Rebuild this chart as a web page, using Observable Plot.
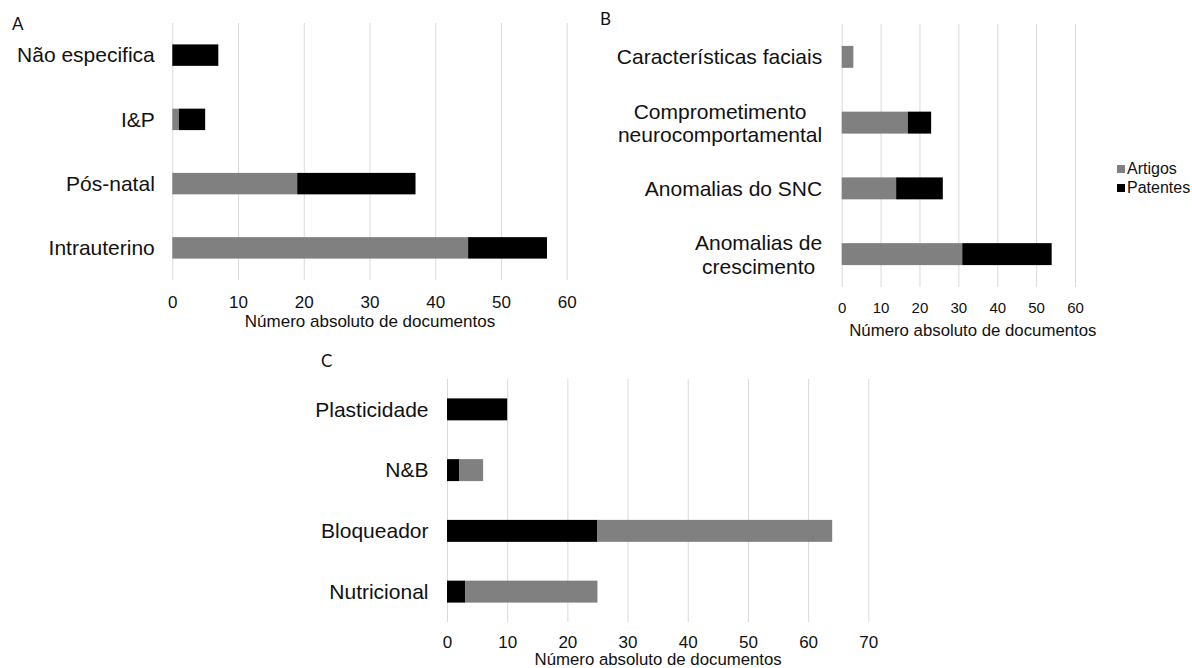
<!DOCTYPE html>
<html>
<head>
<meta charset="utf-8">
<script src="https://cdn.jsdelivr.net/npm/d3@7"></script>
<script src="https://cdn.jsdelivr.net/npm/@observablehq/plot@0.6"></script>
<style>
  html, body { margin: 0; padding: 0; background: #fff; }
  #root { position: relative; width: 1192px; height: 668px; overflow: hidden; background: #fff;
          font-family: "Liberation Sans", Arial, sans-serif; color: #111; }
  .panel { position: absolute; }
  .letter { position: absolute; font-family: Lato, "Open Sans", sans-serif; font-size: 17px; color: #111; line-height: 1; }
  #legend { position: absolute; left: 1117px; top: 160px; }
</style>
</head>
<body>
<div id="root">
  <div class="letter" style="left:12px;top:15px">A</div>
  <div class="letter" style="left:600px;top:10px">B</div>
  <div class="letter" style="left:321px;top:352px">C</div>
  <div class="panel" id="pA" style="left:0px;top:0px"></div>
  <div class="panel" id="pB" style="left:580px;top:0px"></div>
  <div class="panel" id="pC" style="left:280px;top:340px"></div>
  <div id="legend"></div>
</div>
<script>
// ---- data ----
const series = ["Artigos", "Patentes"];
const seriesColors = ["#808080", "#000000"];
const axisTitle = "Número absoluto de documentos";

const catsA = ["Não especifica", "I&P", "Pós-natal", "Intrauterino"];
const artigosA = [0, 1, 19, 45];
const patentesA = [7, 4, 18, 12];
const ticksA = [0, 10, 20, 30, 40, 50, 60];

const catsB = ["Características faciais", "Comprometimento\nneurocomportamental", "Anomalias do SNC", "Anomalias de\ncrescimento"];
const artigosB = [3, 17, 14, 31];
const patentesB = [0, 6, 12, 23];
const ticksB = [0, 10, 20, 30, 40, 50, 60];

const catsC = ["Plasticidade", "N&B", "Bloqueador", "Nutricional"];
const artigosC = [0, 4, 39, 22];
const patentesC = [10, 2, 25, 3];
const ticksC = [0, 10, 20, 30, 40, 50, 60, 70];

// ---- helpers ----
const FONT = '"Liberation Sans", Arial, sans-serif';
const ctx = document.createElement("canvas").getContext("2d");
function textWidth(s, size) {
  ctx.font = size + "px " + FONT;
  return Math.max(...s.split("\n").map(l => ctx.measureText(l).width));
}

function rows(cats, artigos, patentes, order) {
  const out = [];
  cats.forEach((c, i) => {
    for (const s of order) out.push({cat: c, series: s, value: s === "Artigos" ? artigos[i] : patentes[i]});
  });
  return out;
}

function panel(cfg) {
  const data = rows(cfg.cats, cfg.artigos, cfg.patentes, cfg.order);
  const single = cfg.cats.filter(c => !c.includes("\n"));
  const multi = cfg.cats.filter(c => c.includes("\n"));
  const marks = [
    Plot.gridX(cfg.ticks, {stroke: "#d9d9d9", strokeOpacity: 1, strokeWidth: 1}),
    Plot.barX(data, Plot.stackX({
      y: "cat", x: "value", z: "series", fill: "series",
      insetTop: cfg.inset, insetBottom: cfg.inset
    })),
    Plot.axisX(cfg.ticks, {tickSize: 0, tickPadding: cfg.xPad, fontSize: cfg.xFont, label: null, fill: "#111"}),
    Plot.axisY(single, {tickSize: 0, tickPadding: cfg.yPad, fontSize: cfg.yFont, label: null, fill: "#111"}),
    ...multi.map(c => Plot.axisY([c], {
      tickSize: 0, tickPadding: cfg.yPad, fontSize: cfg.yFont, label: null, fill: "#111",
      textAnchor: "middle", lineHeight: 1.12, dx: -textWidth(c, cfg.yFont) / 2
    })),
    Plot.text([axisTitle], {text: d => d, frameAnchor: "bottom", dy: cfg.titleDy, dx: cfg.titleDx || 0,
      fontSize: cfg.titleFont, lineAnchor: "middle", fill: "#111"})
  ];
  return Plot.plot({
    width: cfg.width, height: cfg.height,
    marginLeft: cfg.ml, marginRight: cfg.mr, marginTop: cfg.mt, marginBottom: cfg.mb,
    style: {fontFamily: FONT, background: "transparent", overflow: "visible", color: "#111"},
    x: {domain: [cfg.ticks[0], cfg.ticks[cfg.ticks.length - 1]]},
    y: {type: "band", domain: cfg.cats, padding: 0, round: false},
    color: {domain: series, range: seriesColors},
    marks
  });
}

document.getElementById("pA").append(panel({
  cats: catsA, artigos: artigosA, patentes: patentesA, order: ["Artigos", "Patentes"], ticks: ticksA,
  width: 600, height: 340, ml: 172.3, mr: 33.3, mt: 23, mb: 60, inset: 21.4,
  xPad: 15, xFont: 17, yPad: 18, yFont: 21, titleDy: 41, titleFont: 17
}));

document.getElementById("pB").append(panel({
  cats: catsB, artigos: artigosB, patentes: patentesB, order: ["Artigos", "Patentes"], ticks: ticksB,
  width: 520, height: 345, ml: 261.7, mr: 25, mt: 24, mb: 58, inset: 21.9,
  xPad: 15, xFont: 15, yPad: 20, yFont: 21, titleDy: 43, titleDx: 14, titleFont: 16.8
}));

document.getElementById("pC").append(panel({
  cats: catsC, artigos: artigosC, patentes: patentesC, order: ["Patentes", "Artigos"], ticks: ticksC,
  width: 620, height: 328, ml: 167, mr: 31.7, mt: 39, mb: 46, inset: 19.4,
  xPad: 13.5, xFont: 17, yPad: 19, yFont: 21, titleDy: 37.5, titleFont: 16.8
}));

const leg = Plot.legend({
  color: {type: "ordinal", domain: series, range: seriesColors},
  swatchSize: 8, columns: 1,
  style: {fontFamily: FONT, fontSize: "16px", color: "#111", background: "transparent"}
});
leg.querySelectorAll("svg").forEach(s => { s.style.marginRight = "2px"; });
document.getElementById("legend").append(leg);
</script>
</body>
</html>
